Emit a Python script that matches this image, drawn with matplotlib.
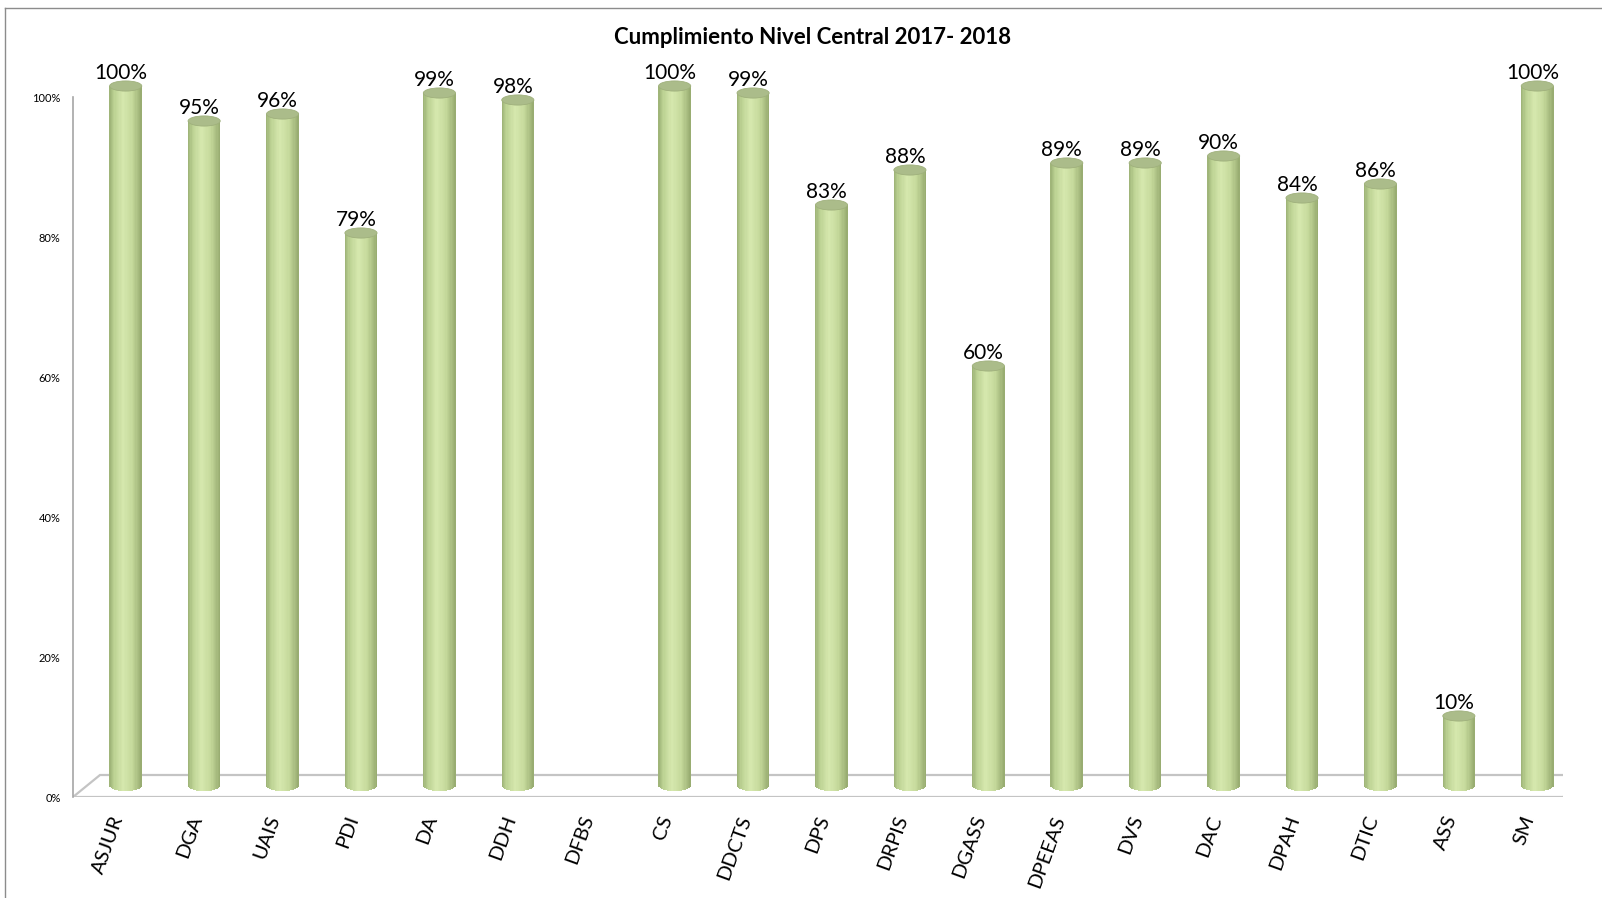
import numpy as np
import matplotlib.pyplot as plt
import matplotlib.transforms as mtransforms
from matplotlib.patches import Ellipse, Polygon
from matplotlib.lines import Line2D
from matplotlib.colors import LinearSegmentedColormap

#--- datos
categorias = ["ASJUR", "DGA", "UAIS", "PDI", "DA", "DDH", "DFBS", "CS", "DDCTS", "DPS",
              "DRPIS", "DGASS", "DPEEAS", "DVS", "DAC", "DPAH", "DTIC", "ASS", "SM"]
valores = [100, 95, 96, 79, 99, 98, np.nan, 100, 99, 83,
           88, 60, 89, 89, 90, 84, 86, 10, 100]
yticks = [0, 20, 40, 60, 80, 100]
ylabels = ["0%", "20%", "40%", "60%", "80%", "100%"]
titulo = "Cumplimiento Nivel Central 2017- 2018"

plt.rcParams['font.family'] = ['Lato', 'DejaVu Sans']

# cilindro: degradado horizontal
cmap = LinearSegmentedColormap.from_list(
    "cil", [(0.0, "#9db276"), (0.15, "#bcd293"), (0.42, "#d6e8ae"),
            (0.7, "#c6da9c"), (1.0, "#97ab70")])
tapa = "#abbc8a"

fig = plt.figure(figsize=(16.02, 8.98), dpi=100)
ax = fig.add_axes([73/1602, 101/898, 1490/1602, 700/898])
ax.set_xlim(-0.5, len(categorias) - 0.5)
ax.set_ylim(0, 100)

# profundidad 3D (en pulgadas a 100 dpi)
prof = mtransforms.ScaledTranslation(0.27, 0.22, fig.dpi_scale_trans)
medio = mtransforms.ScaledTranslation(0.135, 0.11, fig.dpi_scale_trans)
trans_bar = ax.transData + medio

# piso
x0, x1 = -0.5, len(categorias) - 0.5
frente = ax.transData.transform([(x0, 0), (x1, 0)])
fondo = (ax.transData + prof).transform([(x1, 0), (x0, 0)])
piso = Polygon(np.vstack([frente, fondo]), closed=True, fill=False,
               edgecolor="#c4c4c4", lw=1.6, transform=None, zorder=1)
ax.add_artist(piso)

ancho = 0.41
alto_tapa = 1.45
n = 26
for i, v in enumerate(valores):
    if np.isnan(v):
        continue
    u = (np.arange(n) + 0.5) / n * 2 - 1
    xs = i + u * ancho / 2
    fondos = -alto_tapa / 2 * np.sqrt(1 - u**2)
    ax.bar(xs, v - fondos, width=ancho / n * 1.35, bottom=fondos,
           color=cmap((u + 1) / 2), linewidth=0, transform=trans_bar,
           zorder=3, clip_on=False)
    ax.add_patch(Ellipse((i, v), ancho, alto_tapa, facecolor=tapa,
                         edgecolor="#9fb07c", lw=0.6, transform=trans_bar,
                         zorder=4, clip_on=False))
    etiqueta = ax.transData + mtransforms.ScaledTranslation(0.085, 0.18, fig.dpi_scale_trans)
    ax.text(i, v, f"{v:.0f}%", ha="center", va="baseline", fontsize=15,
            transform=etiqueta, zorder=5, clip_on=False)

# etiquetas categorias
trans_cat = ax.transData + mtransforms.ScaledTranslation(0.06, -0.19, fig.dpi_scale_trans)
for i, c in enumerate(categorias):
    ax.text(i, 0, c, rotation=70, rotation_mode="anchor", ha="right", va="center",
            fontsize=14.5, transform=trans_cat, clip_on=False)

ax.set_xticks([])
ax.set_yticks(yticks, ylabels, fontsize=8)
ax.tick_params(axis="y", length=0, pad=9)
for s in ["top", "right", "bottom"]:
    ax.spines[s].set_visible(False)
ax.spines["left"].set_color("#a6a6a6")
ax.spines["left"].set_linewidth(1.2)

fig.text(813/1602, 1 - 38/898, titulo, ha="center", va="center", fontsize=16,
         fontweight="bold", family=["Liberation Sans Narrow", "Lato", "DejaVu Sans"])

# marco
fig.add_artist(Line2D([5/1602, 1], [1 - 8/898, 1 - 8/898], color="#8c8c8c", lw=1))
fig.add_artist(Line2D([5/1602, 5/1602], [0, 1 - 8/898], color="#8c8c8c", lw=1))

fig.savefig("out.png", dpi=100)
